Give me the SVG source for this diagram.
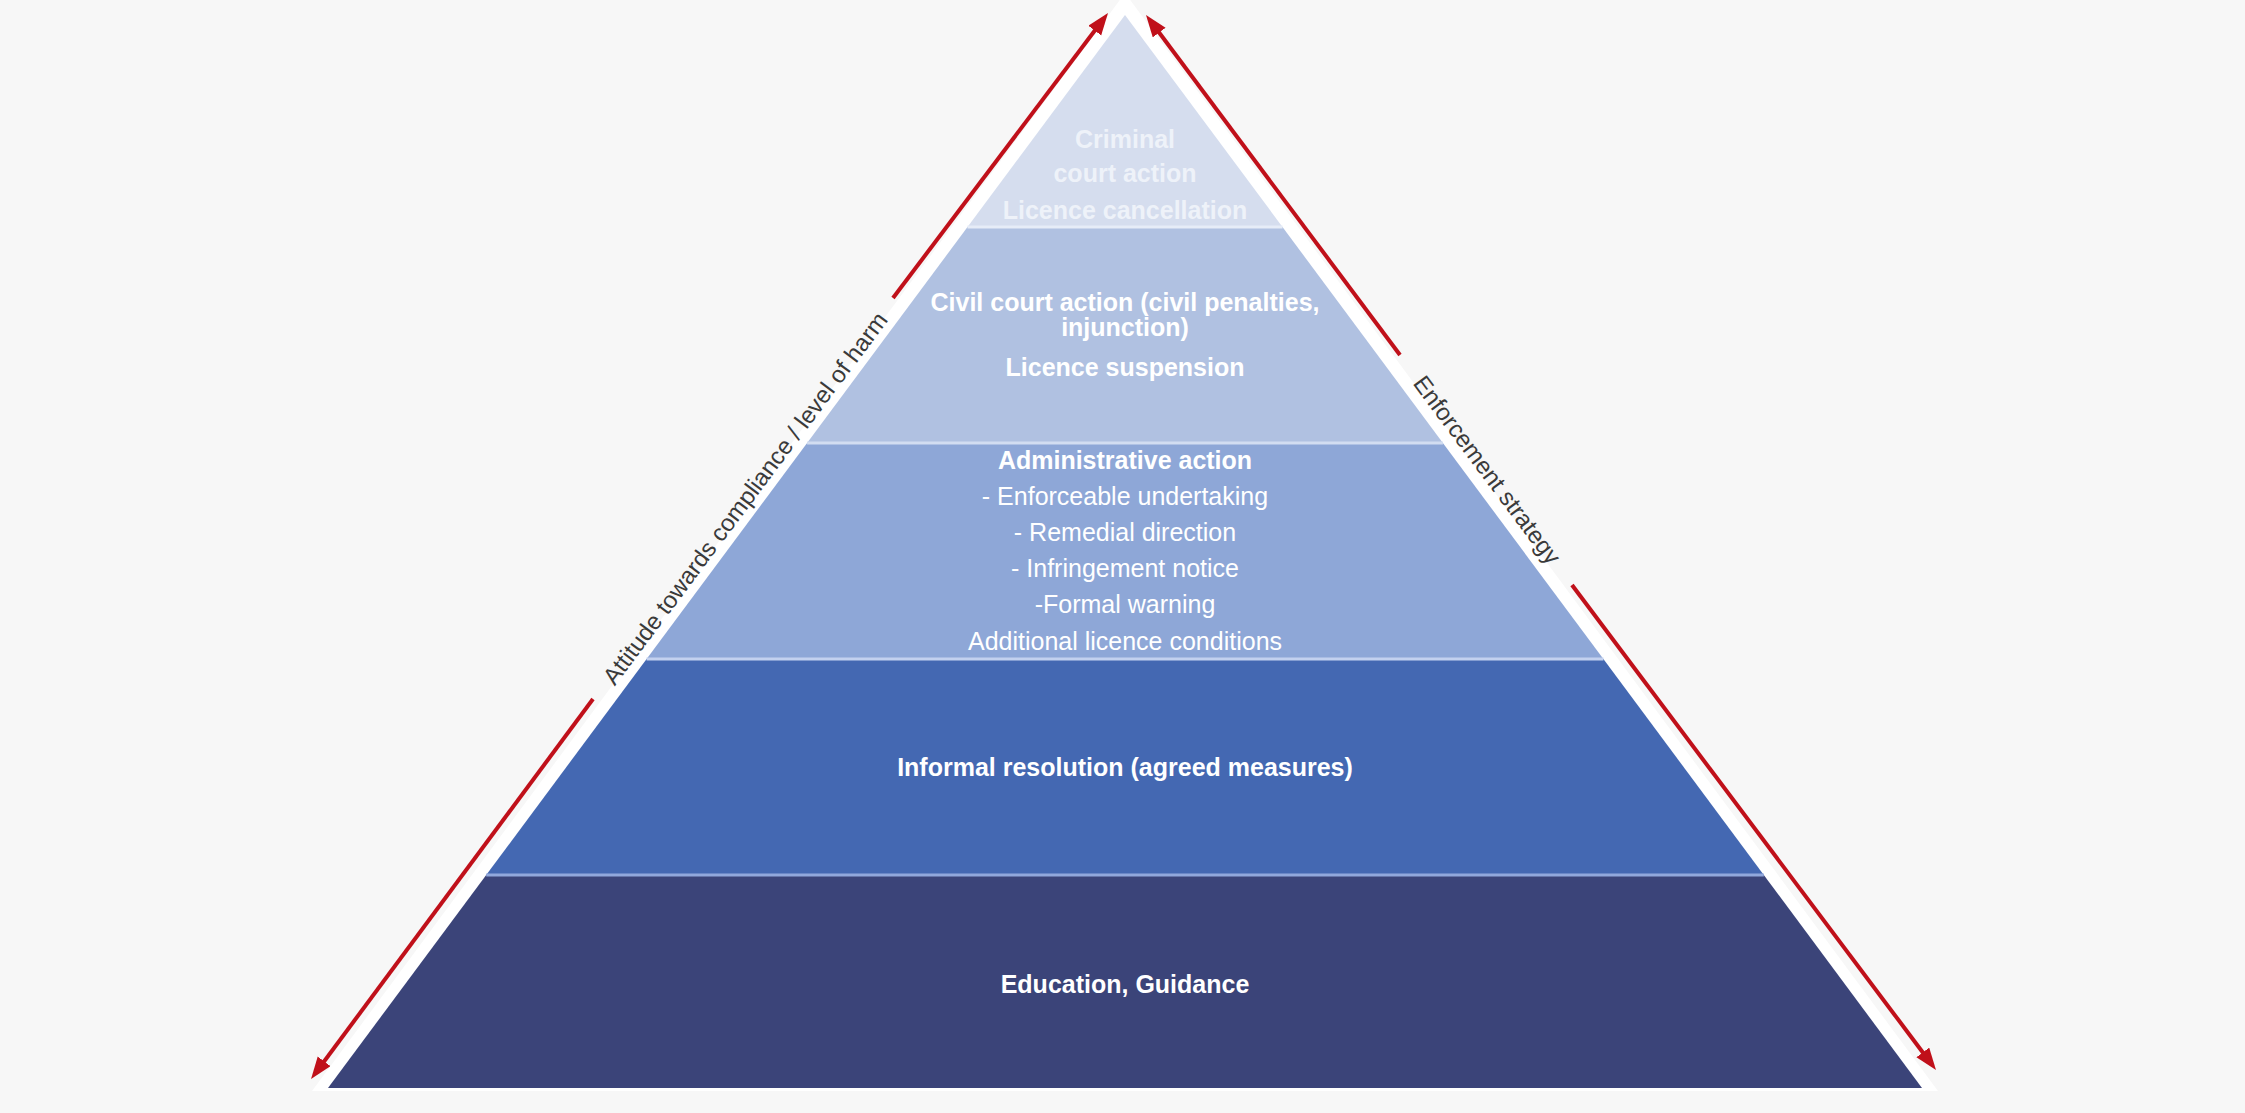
<svg xmlns="http://www.w3.org/2000/svg" width="2245" height="1113" viewBox="0 0 2245 1113">
  <defs>
    <marker id="ah" markerUnits="userSpaceOnUse" markerWidth="24" markerHeight="18" refX="12" refY="8" orient="auto">
      <path d="M0,0 L22,8 L0,16 z" fill="#c0101a"/>
    </marker>
  </defs>
  <style>
    .t { font-family: "Liberation Sans", Arial, sans-serif; font-size: 25px; fill: #ffffff; text-anchor: middle; }
    .b { font-weight: bold; }
    .faint { fill: #eef2f9; }
    .side { font-family: "Liberation Sans", Arial, sans-serif; font-size: 24px; fill: #3a3a3a; text-anchor: middle; }
    .arrow { stroke: #c0101a; stroke-width: 4; fill: none; marker-end: url(#ah); }
    .sep { stroke-width: 3; }
  </style>
  <rect x="0" y="0" width="2245" height="1113" fill="#f7f7f7"/>
  <polygon points="1125,-7 312,1091 1938,1091" fill="#ffffff"/>

  <g id="tier-criminal">
    <polygon points="1125,15 1282.5,227 967.5,227" fill="#d5ddee"/>
    <text class="t b faint" x="1125" y="148">Criminal</text>
    <text class="t b faint" x="1125" y="182">court action</text>
    <text class="t b faint" x="1125" y="219">Licence cancellation</text>
  </g>
  <g id="tier-civil">
    <polygon points="967.5,227 1282.5,227 1442.9,443 807.1,443" fill="#b0c1e1"/>
    <text class="t b" x="1125" y="311">Civil court action (civil penalties,</text>
    <text class="t b" x="1125" y="336">injunction)</text>
    <text class="t b" x="1125" y="376">Licence suspension</text>
  </g>
  <g id="tier-administrative">
    <polygon points="807.1,443 1442.9,443 1603.4,659 646.6,659" fill="#8ea7d7"/>
    <text class="t b" x="1125" y="469">Administrative action</text>
    <text class="t" x="1125" y="505">- Enforceable undertaking</text>
    <text class="t" x="1125" y="541">- Remedial direction</text>
    <text class="t" x="1125" y="577">- Infringement notice</text>
    <text class="t" x="1125" y="613">-Formal warning</text>
    <text class="t" x="1125" y="650">Additional licence conditions</text>
  </g>
  <g id="tier-informal">
    <polygon points="646.6,659 1603.4,659 1763.8,875 486.2,875" fill="#4468b2"/>
    <text class="t b" x="1125" y="776">Informal resolution (agreed measures)</text>
  </g>
  <g id="tier-education">
    <polygon points="486.2,875 1763.8,875 1922,1088 328,1088" fill="#3b4479"/>
    <text class="t b" x="1125" y="993">Education, Guidance</text>
  </g>
  <g id="separators">
    <line class="sep" x1="967.5" y1="227" x2="1282.5" y2="227" stroke="#e6ecf7"/>
    <line class="sep" x1="807.1" y1="443" x2="1442.9" y2="443" stroke="#d2ddf1"/>
    <line class="sep" x1="646.6" y1="659" x2="1603.4" y2="659" stroke="#c3d1ef"/>
    <line class="sep" x1="486.2" y1="875" x2="1763.8" y2="875" stroke="#91a8dc"/>
  </g>

  <g id="connectors">
    <line class="arrow" x1="893" y1="298" x2="1102" y2="21"/>
    <line class="arrow" x1="593" y1="699" x2="317" y2="1071"/>
    <line class="arrow" x1="1400" y1="355" x2="1152" y2="23"/>
    <line class="arrow" x1="1572" y1="585" x2="1930" y2="1062"/>
  </g>

  <g id="label-left">
    <text class="side" transform="translate(751.7,503.3) rotate(-53.2)">Attitude towards compliance / level of harm</text>
  </g>
  <g id="label-right">
    <text class="side" transform="translate(1480.6,474.8) rotate(53.2)">Enforcement strategy</text>
  </g>
</svg>
